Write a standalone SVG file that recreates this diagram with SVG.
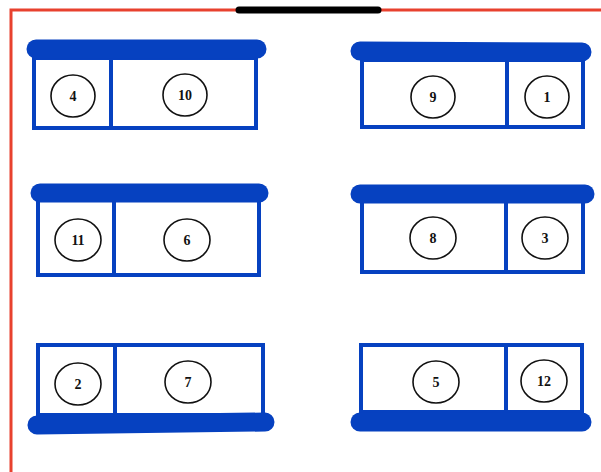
<svg xmlns="http://www.w3.org/2000/svg" width="601" height="472" viewBox="0 0 601 472">
<style>
.wall{fill:none;stroke:#e8412e;stroke-width:3}
.door{stroke:#000;stroke-width:7;stroke-linecap:round}
.desk{fill:#fff;stroke:#0641c0;stroke-width:4}
.div{stroke:#0641c0;stroke-width:4}
.bar{stroke:#0641c0;stroke-width:19;stroke-linecap:round}
.seat{fill:#fff;stroke:#111;stroke-width:1.6}
.num{font-family:"Liberation Serif",serif;font-weight:bold;font-size:14px;fill:#111;text-anchor:middle}
</style>
<rect width="601" height="472" fill="#fff"/>
<g id="walls">
<path class="wall" d="M11 472 V10 H601"/>
<line class="door" x1="239" y1="10" x2="378" y2="10"/>
</g>
<g id="desk1">
<rect class="desk" x="34" y="58" width="222" height="70"/>
<line class="div" x1="111" y1="58" x2="111" y2="128"/>
<line class="bar" x1="36" y1="49" x2="257" y2="49"/>
<g id="seat4"><ellipse class="seat" cx="73" cy="96" rx="22" ry="21"/><text class="num" x="73" y="101">4</text></g>
<g id="seat10"><ellipse class="seat" cx="185" cy="95" rx="22" ry="21"/><text class="num" x="185" y="100">10</text></g>
</g>
<g id="desk2">
<rect class="desk" x="362" y="60" width="221" height="67"/>
<line class="div" x1="507" y1="60" x2="507" y2="127"/>
<line class="bar" x1="360" y1="51" x2="582" y2="52"/>
<g id="seat9"><ellipse class="seat" cx="433" cy="97" rx="22" ry="21"/><text class="num" x="433" y="102">9</text></g>
<g id="seat1"><ellipse class="seat" cx="547" cy="97" rx="22" ry="21"/><text class="num" x="547" y="102">1</text></g>
</g>
<g id="desk3">
<rect class="desk" x="38" y="200" width="221" height="75"/>
<line class="div" x1="114" y1="200" x2="114" y2="275"/>
<line class="bar" x1="40" y1="193" x2="259" y2="193"/>
<g id="seat11"><ellipse class="seat" cx="78" cy="240" rx="23" ry="21"/><text class="num" x="78" y="245">11</text></g>
<g id="seat6"><ellipse class="seat" cx="187" cy="240" rx="23" ry="21"/><text class="num" x="187" y="245">6</text></g>
</g>
<g id="desk4">
<rect class="desk" x="362" y="200" width="221" height="72"/>
<line class="div" x1="506" y1="200" x2="506" y2="272"/>
<line class="bar" x1="360" y1="194" x2="585" y2="194"/>
<g id="seat8"><ellipse class="seat" cx="433" cy="238" rx="23" ry="21"/><text class="num" x="433" y="243">8</text></g>
<g id="seat3"><ellipse class="seat" cx="545" cy="238" rx="23" ry="21"/><text class="num" x="545" y="243">3</text></g>
</g>
<g id="desk5">
<rect class="desk" x="38" y="345" width="225" height="70"/>
<line class="div" x1="115" y1="345" x2="115" y2="415"/>
<line class="bar" x1="37" y1="425" x2="265" y2="422"/>
<g id="seat2"><ellipse class="seat" cx="78" cy="384" rx="23" ry="21"/><text class="num" x="78" y="389">2</text></g>
<g id="seat7"><ellipse class="seat" cx="188" cy="382" rx="23" ry="21"/><text class="num" x="188" y="387">7</text></g>
</g>
<g id="desk6">
<rect class="desk" x="361" y="345" width="221" height="67"/>
<line class="div" x1="506" y1="345" x2="506" y2="412"/>
<line class="bar" x1="360" y1="422" x2="582" y2="422"/>
<g id="seat5"><ellipse class="seat" cx="436" cy="382" rx="23" ry="21"/><text class="num" x="436" y="387">5</text></g>
<g id="seat12"><ellipse class="seat" cx="544" cy="381" rx="23" ry="21"/><text class="num" x="544" y="386">12</text></g>
</g>
</svg>
